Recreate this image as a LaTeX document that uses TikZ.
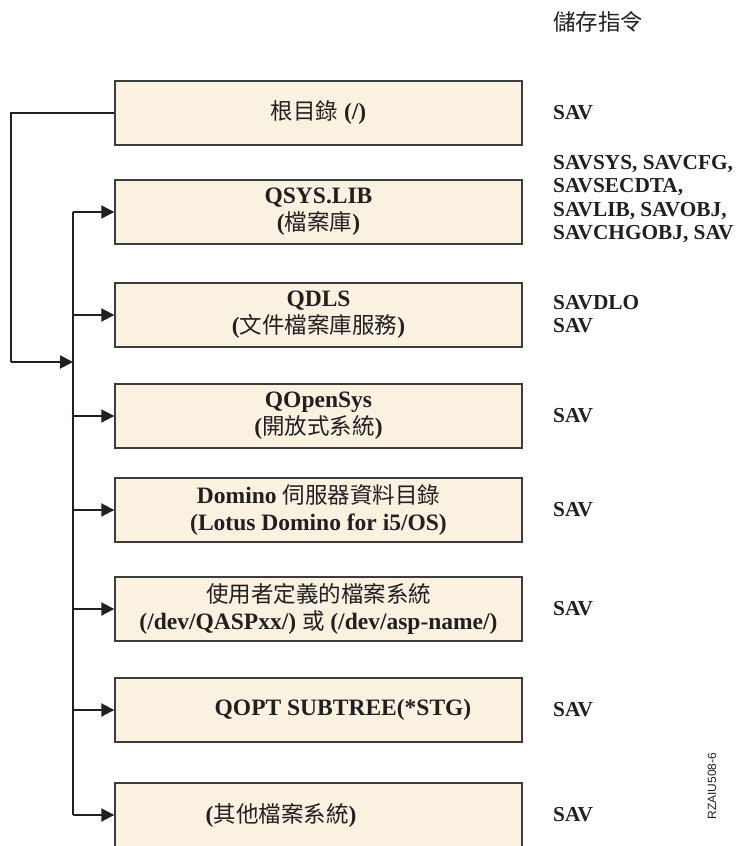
\documentclass[tikz,border=0pt]{standalone}
\usepackage{fontspec}
\setmainfont{Liberation Serif}
\newfontfamily\cjkf{Noto Sans CJK TC}
\newfontfamily\labf{Liberation Sans}
\usetikzlibrary{arrows.meta}
\newcommand\zh[1]{{\cjkf\mdseries\fontsize{22.5}{27}\selectfont #1}}
\definecolor{boxfill}{HTML}{FAF1E1}
\definecolor{boxline}{HTML}{3C3C3C}
\definecolor{ink}{HTML}{231F20}
\tikzset{
  fsbox/.style={draw=boxline, line width=1.4pt, fill=boxfill, minimum width=407pt, minimum height=64pt,
    inner sep=0pt, align=center, font=\bfseries\fontsize{23.5}{27}\selectfont, text=ink},
  boxtext/.style={inner sep=0pt, font=\bfseries\fontsize{23.5}{27}\selectfont, text=ink},
  cmd/.style={anchor=west, align=left, inner sep=0pt, font=\bfseries\fontsize{21.3}{23.5}\selectfont, text=ink},
  conn/.style={draw=ink, line width=2pt},
  arr/.style={conn, -{Triangle[length=13pt,width=13pt]}}
}
\begin{document}
\begin{tikzpicture}[x=1pt,y=-1pt]
\useasboundingbox (0,0) rectangle (741,846);
\clip (0,0) rectangle (741,846);
% title
\node[anchor=west, inner sep=0pt, text=ink] (title) at (553,22) {\zh{儲存指令}};
% boxes
\node[fsbox] (b1) at (318.5,113) {\zh{根目錄} (/)};
\node[fsbox] (b2) at (318.5,212) {QSYS.LIB\\(\zh{檔案庫})};
\node[fsbox] (b3) at (318.5,315) {QDLS\\(\zh{文件檔案庫服務})};
\node[fsbox] (b4) at (318.5,416) {QOpenSys\\(\zh{開放式系統})};
\node[fsbox] (b5) at (318.5,510) {Domino \zh{伺服器資料目錄}\\(Lotus Domino for i5/OS)};
\node[fsbox] (b6) at (318.5,609) {\zh{使用者定義的檔案系統}\\(/dev/QASPxx/) \zh{或} (/dev/asp-name/)};
\node[fsbox] (b7) at (318.5,710) {};
\node[boxtext] (b7t) at (343,710) {QOPT SUBTREE(*STG)};
\node[fsbox] (b8) at (318.5,815) {};
\node[boxtext] (b8t) at (281,815) {(\zh{其他檔案系統})};
% commands
\node[cmd] (c1) at (553,113) {SAV};
\node[cmd] (c2) at (553,199) {SAVSYS, SAVCFG,\\SAVSECDTA,\\SAVLIB, SAVOBJ,\\SAVCHGOBJ, SAV};
\node[cmd] (c3) at (553,314) {SAVDLO\\SAV};
\node[cmd] (c4) at (553,416) {SAV};
\node[cmd] (c5) at (553,510) {SAV};
\node[cmd] (c6) at (553,609) {SAV};
\node[cmd] (c7) at (553,710) {SAV};
\node[cmd] (c8) at (553,815) {SAV};
% figure id
\node[rotate=90, inner sep=0pt, font=\labf\fontsize{12}{12}\selectfont, text=ink] (fid) at (712,786) {RZAIU508-6};
% connectors
\coordinate (o1) at (11,113);
\coordinate (o2) at (11,362);
\coordinate (j) at (73,362);
\coordinate (top) at (73,212);
\coordinate (bot) at (73,815);
\draw[conn] (b1.west) -- (o1) -- (o2);
\draw[arr] (o2) -- (j);
\draw[conn] (top) -- (bot);
\foreach \b in {b2,b3,b4,b5,b6,b7,b8}{
  \draw[arr] (top |- \b.west) -- (\b.west);
}
\end{tikzpicture}
\end{document}
